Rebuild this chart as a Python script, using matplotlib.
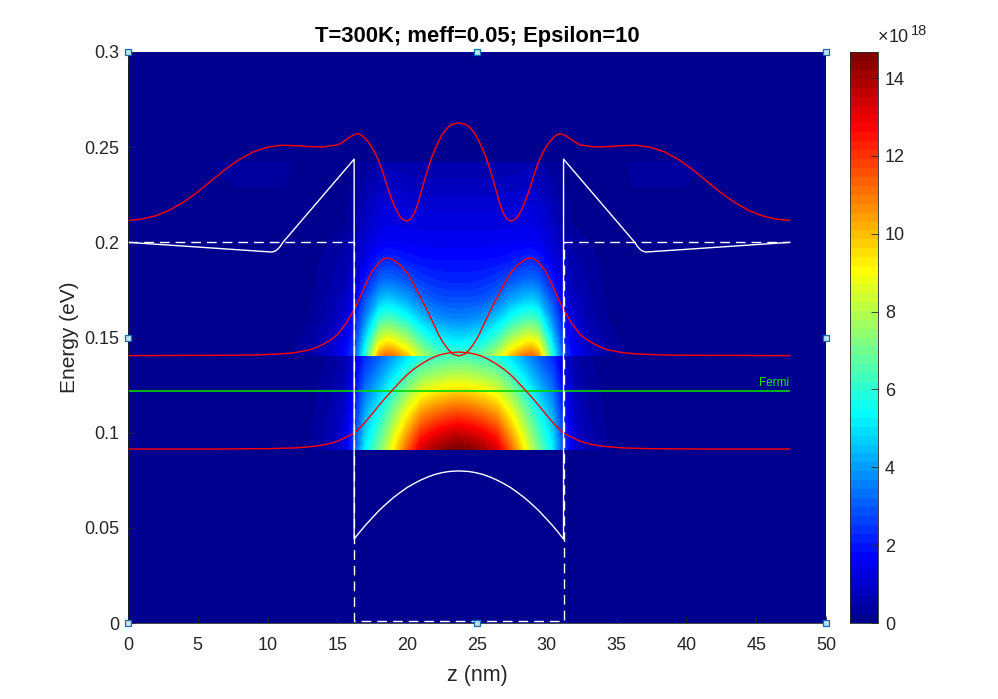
import numpy as np
import matplotlib
matplotlib.use("Agg")
import matplotlib.pyplot as plt
from matplotlib.cm import ScalarMappable
from matplotlib.colors import LinearSegmentedColormap, Normalize

plt.rcParams["font.family"] = ["Liberation Sans", "DejaVu Sans"]

# Well is symmetric, so values are read for the left half and mirrored about z_mid
z_mid = 23.7
z_end = 47.35
dens_max = 14.67

# Carrier density (1e18).
# Two blocks because the density jumps where the second subband starts.
dens_z = [0, 8, 11, 13, 14.5, 15.5, 16.2, 17, 18, 18.5, 19, 20, 21, 22, 23, 23.67]

lower_E = [0.0914, 0.095, 0.10, 0.11, 0.12, 0.13, 0.1407]
lower_left = [
    [0, 0, .05, .2, .6, 1.2, 2.6, 5.2, 7.0, 8.0, 9.1, 11.3, 13.2, 14.0, 14.5, 14.67],
    [0, 0, .05, .19, .58, 1.16, 2.51, 5.02, 6.76, 7.73, 8.79, 10.9, 12.75, 13.5, 14.0, 14.17],
    [0, 0, .05, .18, .55, 1.1, 2.38, 4.75, 6.4, 7.31, 8.32, 10.3, 12.06, 12.8, 13.25, 13.41],
    [0, 0, .04, .16, .48, .96, 2.08, 4.16, 5.6, 6.4, 7.28, 9.04, 10.56, 11.2, 11.6, 11.74],
    [0, 0, .03, .14, .41, .81, 1.76, 3.53, 4.75, 5.42, 6.17, 7.66, 8.95, 9.49, 9.83, 9.95],
    [0, 0, .03, .11, .33, .66, 1.44, 2.87, 3.86, 4.42, 5.02, 6.24, 7.29, 7.73, 8.0, 8.1],
    [0, 0, .02, .09, .26, .52, 1.12, 2.24, 3.01, 3.44, 3.91, 4.86, 5.68, 6.02, 6.24, 6.31],
]

upper_E = [0.1407, 0.145, 0.15, 0.16, 0.17, 0.18, 0.19, 0.20, 0.21, 0.22, 0.23, 0.2417]
upper_left = [
    [0, 0, .1, .4, 1.0, 1.7, 2.6, 5.8, 10.5, 11.2, 11.0, 9.8, 8.0, 6.8, 6.4, 6.3],
    [0, 0, .09, .36, .89, 1.55, 2.4, 5.3, 9.35, 9.97, 9.79, 8.72, 7.12, 6.05, 5.7, 5.61],
    [0, 0, .08, .31, .77, 1.4, 2.2, 4.7, 8.13, 8.67, 8.51, 7.59, 6.19, 5.26, 4.95, 4.88],
    [0, 0, .06, .23, .57, 1.14, 1.9, 3.6, 6.0, 6.41, 6.29, 5.61, 4.58, 3.89, 3.66, 3.6],
    [0, 0, .04, .17, .5, .83, 1.49, 2.81, 4.34, 4.63, 4.54, 4.05, 3.3, 2.9, 2.8, 2.8],
    [0, 0, .03, .14, .42, .62, 1.05, 1.99, 3.08, 3.28, 3.22, 2.87, 2.5, 2.3, 2.2, 2.2],
    [0, 0, .02, .12, .35, .55, .8, 1.39, 2.15, 2.3, 2.26, 2.05, 1.9, 1.85, 1.85, 1.85],
    [0, 0, .01, .1, .25, .4, .6, 1.1, 1.5, 1.6, 1.6, 1.55, 1.5, 1.5, 1.5, 1.5],
    [0, 0, .02, .05, .12, .2, .4, .85, 1.25, 1.35, 1.35, 1.3, 1.3, 1.3, 1.3, 1.3],
    [0, .05, .1, .1, .15, .2, .3, .7, 1.05, 1.15, 1.15, 1.1, 1.05, 1.05, 1.05, 1.05],
    [0, .25, .25, .1, .1, .15, .25, .5, .75, .85, .85, .8, .75, .75, .75, .75],
    [0, .3, .3, .1, .05, .1, .15, .3, .5, .6, .6, .55, .5, .5, .5, .5],
]

# Wave functions, shifted to their subband energy
psi1_z = [0, 6, 10, 12, 13, 13.5, 14, 14.5, 15, 15.6, 16.2, 16.6, 17, 17.5, 18, 18.5, 19,
          19.5, 20, 20.5, 21, 21.5, 22, 22.5, 23, 23.7]
psi1_E = [.0914, .0914, .0916, .0920, .0926, .0930, .0936, .0944, .0955, .0975, .0998, .1025,
          .1056, .1100, .1145, .1188, .1228, .1268, .1305, .1335, .1360, .1382, .1400, .1412,
          .1419, .1424]

psi2_z = [0, 6, 9, 11, 12, 13, 13.5, 14, 14.5, 15, 15.6, 16.2, 16.6, 17, 17.5, 18, 18.25,
          18.55, 18.8, 19, 19.5, 20, 20.5, 21, 21.5, 22, 22.25, 22.5, 22.75, 23, 23.3, 23.7]
psi2_E = [.1405, .1406, .1408, .1414, .1421, .1435, .1448, .1465, .1487, .1515, .1572, .1647,
          .1708, .1775, .1850, .1895, .1910, .1918, .1914, .1908, .1880, .1839, .1775, .1705,
          .1632, .1555, .1515, .1482, .1455, .1432, .1412, .1403]

psi3_z = [0, 1, 2, 3, 4, 5, 6, 7, 8, 9, 10, 11, 12, 13, 14, 15, 15.4, 15.7, 16, 16.3, 16.5,
          16.75, 17, 17.25, 17.5, 17.75, 18, 18.25, 18.5, 18.75, 19, 19.25, 19.5, 19.75, 20,
          20.25, 20.5, 20.75, 21, 21.25, 21.5, 21.75, 22, 22.25, 22.5, 22.75, 23, 23.3, 23.7]
psi3_E = [.2115, .2122, .2140, .2170, .2212, .2265, .2325, .2385, .2437, .2476, .2500,
          .2510, .2508, .2503, .2501, .2512, .2527, .2543, .2558, .2568, .2571,
          .2562, .2545, .2523, .2495, .2462, .2420, .2370, .2310, .2255, .2205, .2165, .2133,
          .2117, .2112, .2122, .2150, .2200, .2265, .2330, .2390, .2445, .2490, .2530, .2565,
          .2590, .2610, .2622, .2627]

# Band edge with charge (solid) and without (dashed)
band_z = [0, 10.3, 10.5, 10.7, 10.9, 11.1, 16.2, 16.2, 16.6, 17, 17.5, 18, 18.5, 19, 19.5, 20,
          20.5, 21, 21.5, 22, 22.5, 23, 23.7]
band_E = [.2, .1949, .1953, .1962, .1978, .2, .2437, .0441, .0478, .0513, .0553, .0592, .0626,
          .0658, .0686, .0712, .0733, .0752, .0768, .0781, .0790, .0796, .0799]
bare_z = [0, 16.2, 16.2, 31.2, 31.2, z_end]
bare_E = [.2, .2, .001, .001, .2, .2]

fermi_E = 0.122

handle_x = [0, 25, 50, 0, 50, 0, 25, 50]
handle_y = [0, 0, 0, .15, .15, .3, .3, .3]

x_ticks = list(range(0, 55, 5))
y_ticks = [0, .05, .1, .15, .2, .25, .3]
y_tick_labels = ["0", "0.05", "0.1", "0.15", "0.2", "0.25", "0.3"]
cbar_ticks = [0, 2, 4, 6, 8, 10, 12, 14]


def mirror(z, values):
    z = np.asarray(z)
    return np.r_[z, 2 * z_mid - z[-2::-1]], np.r_[values, values[-2::-1]]


# MATLAB style jet with 64 steps
jet64 = LinearSegmentedColormap.from_list(
    "jet64",
    [(0, (0, 0, .5625)), (7 / 63, (0, 0, 1)), (23 / 63, (0, 1, 1)),
     (39 / 63, (1, 1, 0)), (55 / 63, (1, 0, 0)), (1, (.5, 0, 0))],
    N=64,
)

fig = plt.figure(figsize=(9.98, 6.99), dpi=100)
ax = fig.add_axes([128 / 998, 76 / 699, 698 / 998, 571 / 699])
ax.set_facecolor(jet64(0))

z_full = np.r_[dens_z, 2 * z_mid - np.asarray(dens_z)[-2::-1]]
levels = np.linspace(0, dens_max, 65)
for block_E, block in [(lower_E, lower_left), (upper_E, upper_left)]:
    block = np.asarray(block)
    ax.contourf(z_full, block_E, np.hstack([block, block[:, -2::-1]]), levels=levels,
                cmap=jet64, extend="max")

ax.plot([0, z_end], [fermi_E, fermi_E], color=(0, .85, 0), lw=1.2)
ax.text(z_end, fermi_E + .0012, "Fermi", color=(0, .95, 0), fontsize=8.5, ha="right", va="bottom")

for z, E in [(psi1_z, psi1_E), (psi2_z, psi2_E), (psi3_z, psi3_E)]:
    ax.plot(*mirror(z, E), color="red", lw=1.0)

ax.plot(*mirror(band_z, band_E), color="white", lw=1.0)
ax.plot(bare_z, bare_E, color="white", lw=1.0, dashes=(7, 4.3))

ax.plot(handle_x, handle_y, ls="none", marker="s", ms=4.8, mfc="#BFE3F7", mec="#0B6FB8",
        mew=0.9, clip_on=False, zorder=10)

ax.set_xlim(0, 50)
ax.set_ylim(0, 0.3)
ax.set_xticks(x_ticks)
ax.set_yticks(y_ticks)
ax.set_yticklabels(y_tick_labels)
ax.tick_params(direction="in", length=5, width=0.6, labelsize=13, colors="#262626")
ax.tick_params(axis="x", pad=10)
ax.tick_params(axis="y", pad=6)
ax.spines["top"].set_visible(False)
ax.spines["right"].set_visible(False)
for side in ["left", "bottom"]:
    ax.spines[side].set_linewidth(0.6)
    ax.spines[side].set_color("#262626")

ax.set_xlabel("z (nm)", fontsize=15.5, color="#262626", labelpad=8)
ax.set_ylabel("Energy (eV)", fontsize=15, color="#262626", labelpad=4)
ax.set_title("T=300K; meff=0.05; Epsilon=10", fontsize=15.8, fontweight="bold", pad=7)

# Colorbar
cax = fig.add_axes([850 / 998, 76 / 699, 28 / 998, 571 / 699])
cb = fig.colorbar(ScalarMappable(Normalize(0, dens_max), jet64), cax=cax)
cb.set_ticks(cbar_ticks)
cb.ax.tick_params(direction="in", length=5, width=0.6, labelsize=13, colors="#262626", pad=5)
cb.outline.set_linewidth(0.6)
cb.outline.set_edgecolor("#262626")

fig.text(878 / 998, 1 - 38 / 699, "\u00d7", fontsize=13, color="#262626", ha="left", va="center")
fig.text(889 / 998, 1 - 38 / 699, "10", fontsize=13, color="#262626", ha="left", va="center")
fig.text(911 / 998, 1 - 31 / 699, "18", fontsize=10.5, color="#262626", ha="left", va="center")

fig.savefig("out.png", dpi=100)
